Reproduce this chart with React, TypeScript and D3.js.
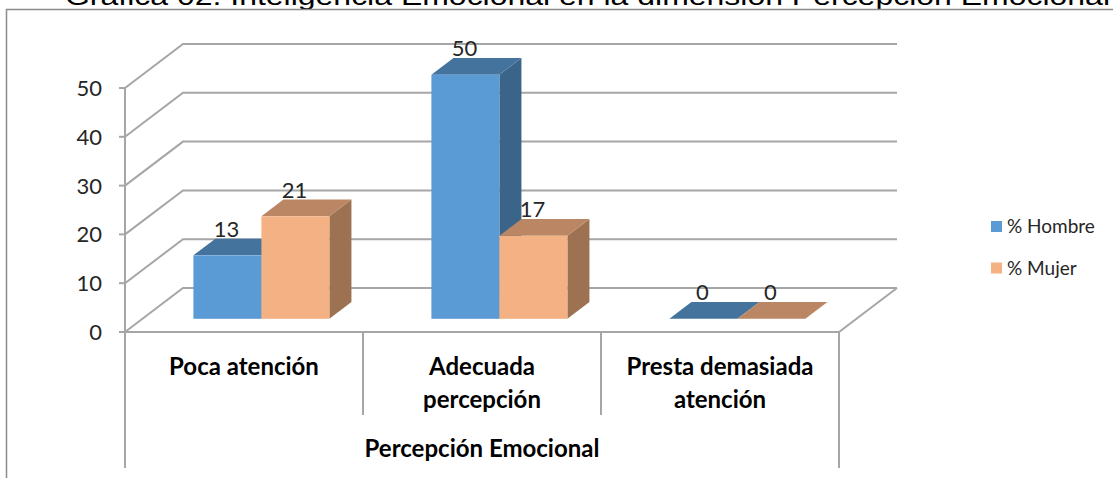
import * as d3 from 'd3';
import React from 'react';

const title = 'Gráfica 02. Inteligencia Emocional en la dimensión Percepción Emocional';
const categories = ['Poca atención', 'Adecuada percepción', 'Presta demasiada atención'];
const categoryLines = [['Poca atención'], ['Adecuada', 'percepción'], ['Presta demasiada', 'atención']];
const seriesNames = ['% Hombre', '% Mujer'];
const hombre = [13, 50, 0];
const mujer = [21, 17, 0];
const yTicks = [0, 10, 20, 30, 40, 50];
const axisTitle = 'Percepción Emocional';

const palette = {
  '% Hombre': { front: '#5B9BD5', top: '#44739E', side: '#3A6488' },
  '% Mujer': { front: '#F4B183', top: '#BA8663', side: '#9C7252' },
} as Record<string, { front: string; top: string; side: string }>;

const font = 'Lato, "Open Sans", sans-serif';
const gridColor = '#A6A6A6';

const App: React.FC = () => {
  const width = 1113;
  const height = 478;

  // front plane of the 3D box, plus the depth offset of the back wall
  const x = d3.scaleBand<string>().domain(categories).range([125, 839]);
  const xs = d3.scaleBand<string>().domain(seriesNames).range([0, x.bandwidth()]).paddingInner(0).paddingOuter(0.75);
  const y = d3.scaleLinear().domain([0, 50]).range([332, 88]);
  const DX = 58;
  const DY = -44;
  const d0 = 0.3;
  const d1 = 0.68;
  const ddx = DX * (d1 - d0);
  const ddy = DY * (d1 - d0);

  const [x0, x1] = x.range();
  const values: Record<string, number[]> = { '% Hombre': hombre, '% Mujer': mujer };

  const bars = categories.flatMap((c, i) =>
    seriesNames.map((s) => {
      const v = values[s][i];
      const xl = (x(c) ?? 0) + (xs(s) ?? 0) + DX * d0;
      const xr = xl + xs.bandwidth();
      const yb = y(0) + DY * d0;
      const yt = y(v) + DY * d0;
      return { key: `${c}-${s}`, s, v, xl, xr, yb, yt };
    })
  );

  return (
    <svg width={width} height={height} style={{ position: 'absolute', left: 0, top: 0, background: '#fff' }}>
      {/* title, cut at the top of the picture */}
      <text x={65} y={5} fontFamily='"Liberation Sans", Arial, sans-serif' fontSize={26} fill="#000" textLength={1045} lengthAdjust="spacingAndGlyphs">
        {title}
      </text>
      {/* chart frame */}
      <path d={`M6.5,${height} V9.5 H${width}`} fill="none" stroke="#8C8C8C" strokeWidth={1.5} />

      {/* walls and gridlines */}
      {yTicks.map((t) => (
        <path
          key={`grid-${t}`}
          d={`M${x0},${y(t)} L${x0 + DX},${y(t) + DY} H${x1 + DX}`}
          fill="none"
          stroke={gridColor}
          strokeWidth={2}
        />
      ))}
      <path d={`M${x0},${y(0)} H${x1} L${x1 + DX},${y(0) + DY}`} fill="none" stroke={gridColor} strokeWidth={2} />
      <line x1={x0} y1={y(50)} x2={x0} y2={468} stroke={gridColor} strokeWidth={2} />
      <line x1={x1} y1={y(0)} x2={x1} y2={468} stroke={gridColor} strokeWidth={2} />
      {categories.slice(1).map((c) => (
        <line key={`sep-${c}`} x1={x(c)} y1={y(0)} x2={x(c)} y2={415} stroke={gridColor} strokeWidth={2} />
      ))}

      {/* y axis ticks */}
      {yTicks.map((t) => (
        <g key={`tick-${t}`} transform={`translate(${x0},${y(t)})`}>
          <line x1={-6} x2={0} stroke={gridColor} strokeWidth={2} />
          <text x={-23} dy="0.36em" textAnchor="end" fontFamily={font} fontSize={22} fill="#262626">
            {t}
          </text>
        </g>
      ))}

      {/* 3D bars */}
      {bars.map((b) => {
        const col = palette[b.s];
        return (
          <g key={b.key}>
            <polygon
              points={`${b.xr},${b.yt} ${b.xr + ddx},${b.yt + ddy} ${b.xr + ddx},${b.yb + ddy} ${b.xr},${b.yb}`}
              fill={col.side}
            />
            <polygon
              points={`${b.xl},${b.yt} ${b.xr},${b.yt} ${b.xr + ddx},${b.yt + ddy} ${b.xl + ddx},${b.yt + ddy}`}
              fill={col.top}
            />
            <rect x={b.xl} y={b.yt} width={b.xr - b.xl} height={b.yb - b.yt} fill={col.front} />
          </g>
        );
      })}
      {bars.map((b) => (
        <text
          key={`lbl-${b.key}`}
          x={(b.xl + b.xr) / 2 - 1}
          y={b.yt + ddy - 2}
          textAnchor="middle"
          fontFamily={font}
          fontSize={22}
          fill="#262626"
        >
          {b.v}
        </text>
      ))}

      {/* category labels */}
      {categories.map((c, i) => (
        <text
          key={`cat-${c}`}
          x={(x(c) ?? 0) + x.bandwidth() / 2}
          y={375}
          textAnchor="middle"
          fontFamily={font}
          fontWeight="bold"
          fontSize={24}
          fill="#000"
        >
          {categoryLines[i].map((line, j) => (
            <tspan key={line} x={(x(c) ?? 0) + x.bandwidth() / 2} dy={j === 0 ? 0 : 33}>
              {line}
            </tspan>
          ))}
        </text>
      ))}
      <text x={(x0 + x1) / 2} y={457} textAnchor="middle" fontFamily={font} fontWeight="bold" fontSize={24} fill="#000">
        {axisTitle}
      </text>

      {/* legend */}
      {seriesNames.map((s, i) => (
        <g key={`leg-${s}`} transform={`translate(991,${221 + i * 41.5})`}>
          <rect width={11} height={11} fill={palette[s].front} />
          <text x={16} y={12} fontFamily={font} fontSize={19} fill="#262626">
            {s}
          </text>
        </g>
      ))}
    </svg>
  );
};

export default App;
